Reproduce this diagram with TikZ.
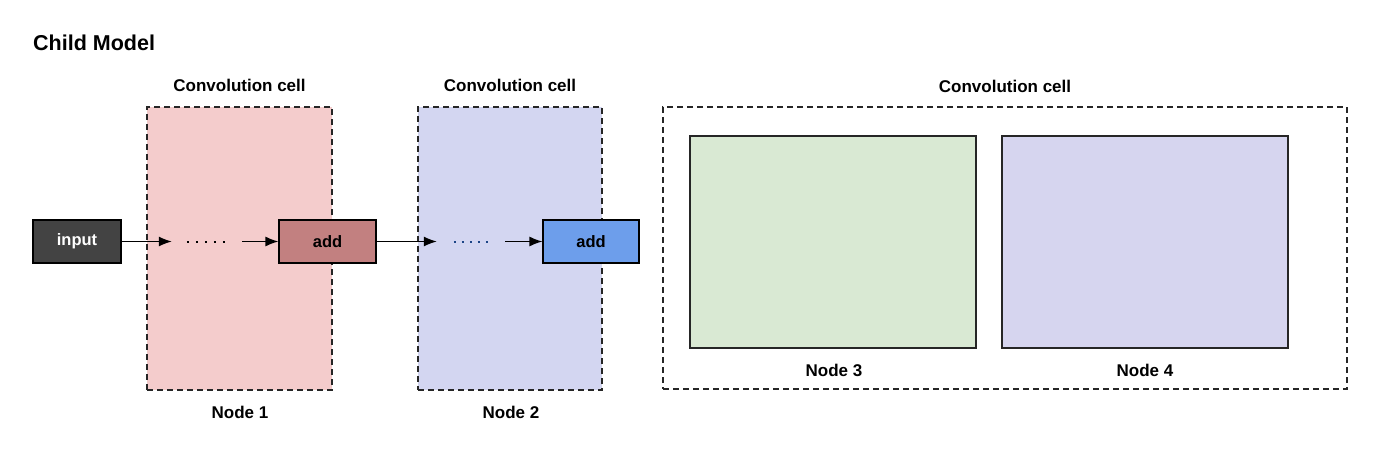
\documentclass[tikz,border=0pt]{standalone}
\usepackage{fontspec}
\setmainfont{Liberation Sans}
\usetikzlibrary{arrows.meta}
\definecolor{cellpink}{HTML}{F4CCCC}
\definecolor{celllav}{HTML}{D3D6F1}
\definecolor{nodegreen}{HTML}{D9E9D3}
\definecolor{nodelav}{HTML}{D6D5EF}
\definecolor{inputgray}{HTML}{434343}
\definecolor{addred}{HTML}{C28080}
\definecolor{addblue}{HTML}{6D9EEB}
\definecolor{dotblue}{HTML}{1C4587}
\begin{document}
\begin{tikzpicture}[x=1pt,y=-1pt,
  cellbox/.style={draw=black!85, line width=1.2pt, dash pattern=on 6pt off 4pt, inner sep=0pt},
  innerbox/.style={draw=black!85, line width=1.1pt, inner sep=0pt, minimum width=286pt, minimum height=212pt},
  opbox/.style={draw=black, line width=1.2pt, inner sep=0pt, minimum width=97pt, minimum height=43pt, font=\bfseries\fontsize{16.5}{19}\selectfont},
  lbl/.style={font=\bfseries\fontsize{17}{20}\selectfont, inner sep=0pt},
  dotsnode/.style={inner sep=0pt, minimum height=10pt},
  dotline/.style={line width=2pt, dash pattern=on 2pt off 7pt},
  conn/.style={line width=1.2pt, -{Latex[length=13pt,width=10pt]}}]
\useasboundingbox (0,0) rectangle (1400,449);
\fill[white] (0,0) rectangle (1400,449);

\node[font=\bfseries\fontsize{21.5}{24}\selectfont, anchor=west, inner sep=0pt] (title) at (33,43) {Child Model};

% cells
\node[cellbox, fill=cellpink, minimum width=185pt, minimum height=283pt] (cell1) at (239.5,248.5) {};
\node[cellbox, fill=celllav, minimum width=184pt, minimum height=283pt] (cell2) at (510,248.5) {};
\node[cellbox, minimum width=684pt, minimum height=282pt] (cell3) at (1005,248) {};

\node[lbl] (c1lbl) at (239.5,85) {Convolution cell};
\node[lbl] (c2lbl) at (510,85) {Convolution cell};
\node[lbl] (c3lbl) at (1005,86) {Convolution cell};
\node[lbl] (n1lbl) at (240,412) {Node 1};
\node[lbl] (n2lbl) at (511,412) {Node 2};

% nodes 3 and 4
\node[innerbox, fill=nodegreen] (node3) at (833,242) {};
\node[innerbox, fill=nodelav] (node4) at (1145,242) {};
\node[lbl] (n3lbl) at (834,370) {Node 3};
\node[lbl] (n4lbl) at (1145,370) {Node 4};

% ops
\node[opbox, fill=inputgray, text=white, minimum width=88pt] (input) at (77,241.5) {input};
\node[dotsnode, minimum width=70pt] (dots1) at (207,242) {};
\node[opbox, fill=addred] (add1) at (327.5,241.5) {add};
\node[dotsnode, minimum width=68pt] (dots2) at (471,242) {};
\node[opbox, fill=addblue, minimum width=96pt] (add2) at (591,241.5) {add};

\draw[dotline, black] ([xshift=15pt]dots1.west) -- ([xshift=-15pt]dots1.east);
\draw[dotline, dotblue, dash pattern=on 2pt off 6pt] ([xshift=17pt]dots2.west) -- ([xshift=-16pt]dots2.east);

\draw[conn] (input.east) -- (input.east -| dots1.west);
\draw[conn] (add1.west -| dots1.east) -- (add1.west);
\draw[conn] (add1.east) -- (add1.east -| dots2.west);
\draw[conn] (add2.west -| dots2.east) -- (add2.west);
\end{tikzpicture}
\end{document}
